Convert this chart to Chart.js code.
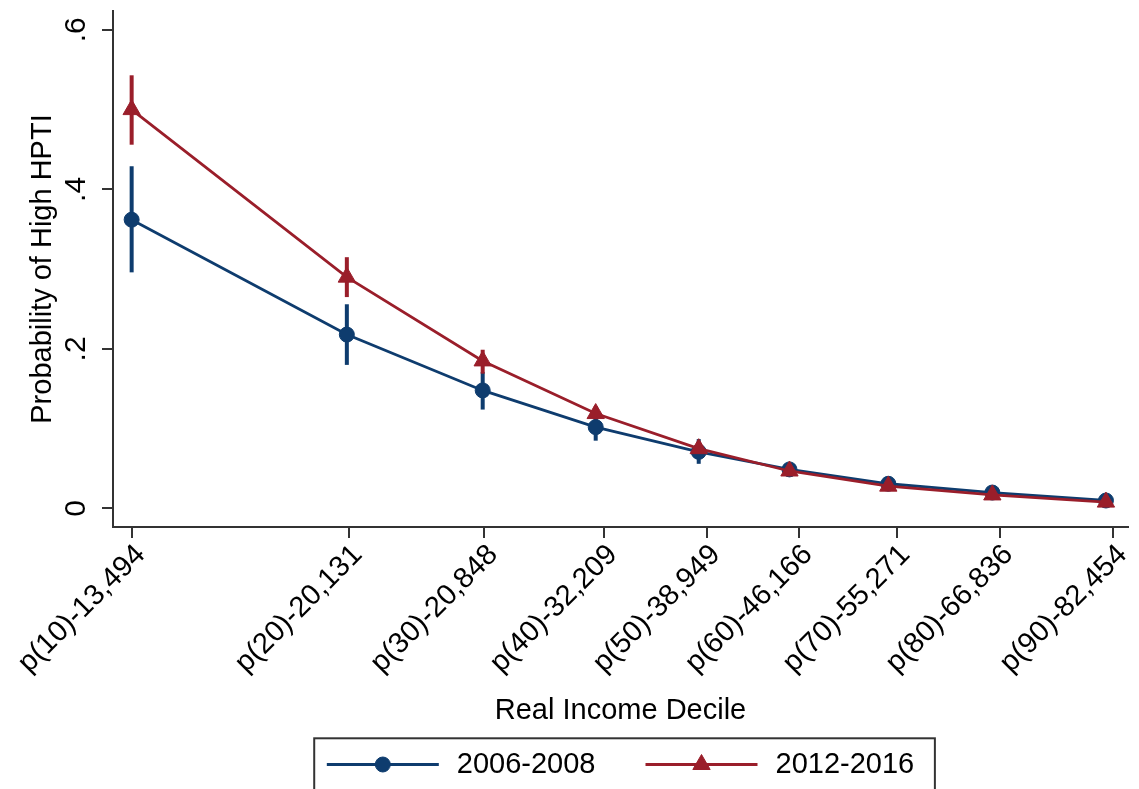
<!DOCTYPE html>
<html>
<head>
<meta charset="utf-8">
<script src="https://cdn.jsdelivr.net/npm/chart.js@4.4.1/dist/chart.umd.min.js"></script>
<style>
  html, body { margin: 0; padding: 0; background: #fff; }
  #chart { display: block; }
</style>
</head>
<body>
<canvas id="chart" width="1139" height="789"></canvas>
<script>
// --- DATA ---
// decile cut-offs (tick positions, log scale) and their printed labels
const decileLabels = ['p(10)-13,494', 'p(20)-20,131', 'p(30)-20,848', 'p(40)-32,209', 'p(50)-38,949',
                      'p(60)-46,166', 'p(70)-55,271', 'p(80)-66,836', 'p(90)-82,454'];
const decileCutoffs = [13494, 20131, 25848, 32209, 38949, 46166, 55271, 66836, 82454];
// income at which each estimate is plotted
const pointIncome = [13490, 20060, 25770, 31740, 38380, 45370, 54440, 65950, 81320];

const yTicks = [0, 0.2, 0.4, 0.6];
const yTickLabels = ['0', '.2', '.4', '.6'];

const seriesNames = ['2006-2008', '2012-2016'];

const prob0608 = [0.362, 0.218, 0.148, 0.102, 0.071, 0.049, 0.031, 0.020, 0.010];
const low0608  = [0.296, 0.180, 0.124, 0.085, 0.056, 0.041, 0.024, 0.014, 0.006];
const high0608 = [0.429, 0.256, 0.171, 0.119, 0.087, 0.057, 0.038, 0.026, 0.014];

const prob1216 = [0.500, 0.290, 0.185, 0.119, 0.075, 0.047, 0.028, 0.017, 0.008];
const low1216  = [0.456, 0.265, 0.169, 0.110, 0.069, 0.042, 0.024, 0.014, 0.006];
const high1216 = [0.543, 0.315, 0.199, 0.128, 0.081, 0.052, 0.032, 0.020, 0.010];

// --- STYLE ---
const NAVY = '#0e3c6e';
const MAROON = '#9a1e2a';
const AXIS = '#333333';
const FONT = "'Liberation Sans', Arial, sans-serif";

Chart.defaults.font.family = FONT;
Chart.defaults.color = '#000';

const ciSets = [
    { low: low0608, high: high0608, color: NAVY },
    { low: low1216, high: high1216, color: MAROON }
];

// confidence intervals, drawn under the lines
const ciPlugin = {
    id: 'ciSpikes',
    beforeDatasetsDraw(chart) {
        const { ctx, scales: { x, y } } = chart;
        ctx.save();
        ctx.lineWidth = 4;
        ctx.lineCap = 'butt';
        ciSets.forEach(set => {
            ctx.strokeStyle = set.color;
            set.low.forEach((lo, i) => {
                const px = x.getPixelForValue(pointIncome[i]);
                ctx.beginPath();
                ctx.moveTo(px, y.getPixelForValue(lo));
                ctx.lineTo(px, y.getPixelForValue(set.high[i]));
                ctx.stroke();
            });
        });
        ctx.restore();
    }
};

// legend samples (line + marker) and the frame round the legend
const legendPlugin = {
    id: 'legendSamples',
    afterDraw(chart) {
        const legend = chart.legend;
        const boxes = legend.legendHitBoxes;
        if (!boxes || !boxes.length) return;
        const ctx = chart.ctx;
        let cy = 0;
        boxes.forEach((hb, i) => {
            const ds = chart.data.datasets[legend.legendItems[i].datasetIndex];
            cy = hb.top + hb.height / 2;
            ctx.save();
            ctx.strokeStyle = ds.borderColor;
            ctx.lineWidth = ds.borderWidth;
            ctx.beginPath();
            ctx.moveTo(hb.left, cy);
            ctx.lineTo(hb.left + 112, cy);
            ctx.stroke();
            ctx.fillStyle = ds.pointBackgroundColor;
            ctx.strokeStyle = ds.pointBorderColor;
            ctx.lineWidth = ds.pointBorderWidth;
            Chart.helpers.drawPoint(ctx, {
                pointStyle: ds.pointStyle, rotation: 0,
                radius: ds.pointRadius, borderWidth: ds.pointBorderWidth
            }, hb.left + 56, cy);
            ctx.restore();
        });
        const first = boxes[0];
        const last = boxes[boxes.length - 1];
        const left = first.left - 12.6;
        const right = last.left + last.width + 20.7;
        ctx.save();
        ctx.strokeStyle = AXIS;
        ctx.lineWidth = 2;
        ctx.strokeRect(left, cy - 26.2, right - left, 53);
        ctx.restore();
    }
};

const datasets = [
    {
        label: seriesNames[0],
        data: pointIncome.map((x, i) => ({ x: x, y: prob0608[i] })),
        borderColor: NAVY, backgroundColor: NAVY,
        borderWidth: 2.8,
        pointStyle: 'circle', pointRadius: 7.5,
        pointBackgroundColor: NAVY, pointBorderColor: NAVY, pointBorderWidth: 1,
        tension: 0, fill: false, order: 2
    },
    {
        label: seriesNames[1],
        data: pointIncome.map((x, i) => ({ x: x, y: prob1216[i] })),
        borderColor: MAROON, backgroundColor: MAROON,
        borderWidth: 2.8,
        pointStyle: 'triangle', pointRadius: 10,
        pointBackgroundColor: MAROON, pointBorderColor: MAROON, pointBorderWidth: 1,
        tension: 0, fill: false, order: 1
    }
];

new Chart(document.getElementById('chart'), {
    type: 'line',
    data: { datasets: datasets },
    plugins: [ciPlugin, legendPlugin],
    options: {
        responsive: false,
        animation: false,
        devicePixelRatio: 1,
        layout: { padding: { top: 6, left: 0, right: 0, bottom: 0 } },
        plugins: {
            tooltip: { enabled: false },
            legend: {
                position: 'bottom',
                fullSize: false,
                labels: {
                    font: { size: 29 },
                    color: '#000',
                    boxWidth: 115.5,
                    padding: 50,
                    sort: (a, b) => a.datasetIndex - b.datasetIndex,
                    generateLabels(chart) {
                        return Chart.defaults.plugins.legend.labels.generateLabels(chart).map(item => ({
                            ...item, fillStyle: 'rgba(0,0,0,0)', strokeStyle: 'rgba(0,0,0,0)', lineWidth: 0
                        }));
                    }
                }
            }
        },
        scales: {
            x: {
                type: 'logarithmic',
                min: 13034,
                max: 84694,
                afterBuildTicks: scale => { scale.ticks = decileCutoffs.map(v => ({ value: v })); },
                afterFit: scale => {
                    scale.height = 173;
                    scale.paddingLeft = 0;
                    scale.paddingRight = 0;
                },
                grid: { drawOnChartArea: false, drawTicks: true, tickLength: 11, color: AXIS, lineWidth: 2 },
                border: { display: true, color: AXIS, width: 2 },
                ticks: {
                    autoSkip: false,
                    minRotation: 45, maxRotation: 45,
                    padding: 0,
                    labelOffset: 9,
                    font: { size: 29 },
                    color: '#000',
                    callback: (value, index) => decileLabels[index]
                },
                title: {
                    display: true,
                    text: 'Real Income Decile',
                    font: { size: 29 },
                    color: '#000',
                    padding: { top: 0, bottom: -28 }
                }
            },
            y: {
                type: 'linear',
                min: -0.0232,
                max: 0.6236,
                afterBuildTicks: scale => { scale.ticks = yTicks.map(v => ({ value: v })); },
                afterFit: scale => {
                    scale.width = 113;
                    scale.paddingTop = 0;
                    scale.paddingBottom = 0;
                },
                grid: { drawOnChartArea: false, drawTicks: true, tickLength: 11, color: AXIS, lineWidth: 2 },
                border: { display: true, color: AXIS, width: 2 },
                ticks: {
                    minRotation: 90, maxRotation: 90,
                    crossAlign: 'center',
                    padding: 13,
                    font: { size: 30 },
                    color: '#000',
                    callback: (value, index) => yTickLabels[index]
                },
                title: {
                    display: true,
                    text: 'Probability of High HPTI',
                    font: { size: 29 },
                    color: '#000',
                    padding: { top: 26, bottom: 0 }
                }
            }
        }
    }
});
</script>
</body>
</html>
